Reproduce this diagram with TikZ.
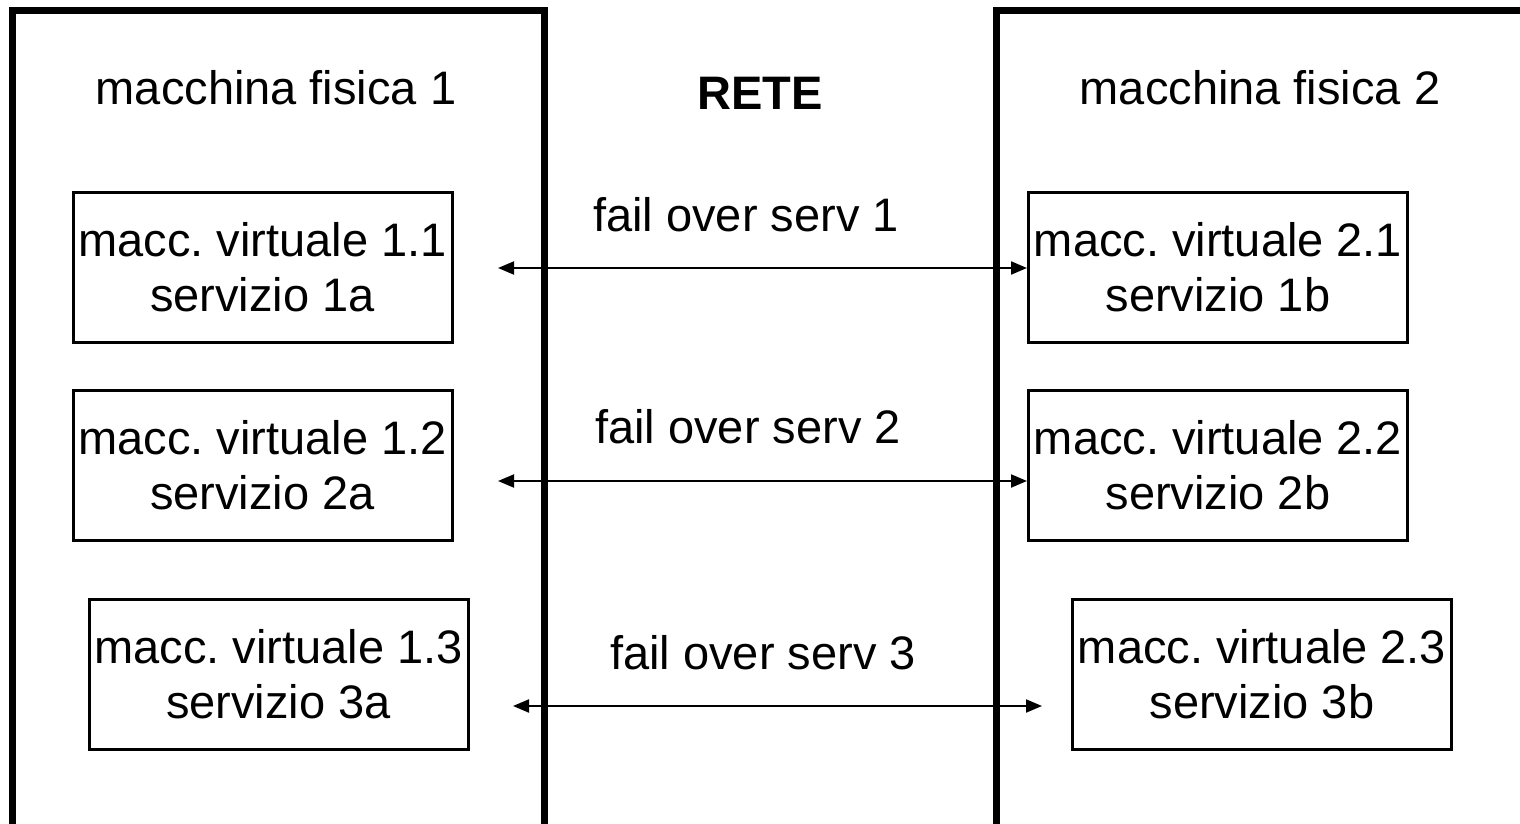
\documentclass[tikz,border=0pt]{standalone}
\usepackage{fontspec}
\setmainfont{Liberation Sans}
\usetikzlibrary{arrows.meta}
\frenchspacing
\begin{document}
\begin{tikzpicture}[x=1pt,y=-1pt,
  txt/.style={font=\fontsize{47}{55}\selectfont, inner sep=0pt},
  bigbox/.style={draw, line width=7pt, minimum width=#1, minimum height=830pt, inner sep=0pt},
  vbox/.style={draw, line width=3pt, minimum width=379pt, minimum height=150pt, inner sep=0pt, align=center, font=\fontsize{47}{55}\selectfont},
  link/.style={line width=2pt, {Triangle[length=16pt,width=13pt]}-{Triangle[length=16pt,width=13pt]}}]
\useasboundingbox (0,0) rectangle (1520,824);
\node[bigbox=532pt] (m1) at (278,426) {};
\node[bigbox=540pt] (m2) at (1266,426) {};
\node[txt] (m1t) at (276,88) {macchina fisica 1};
\node[txt] (m2t) at (1260,88) {macchina fisica 2};
\node[txt, font=\fontsize{47}{55}\selectfont\bfseries] (rete) at (760,93) {RETE};
\node[vbox] (v11) at (262.5,267) {macc. virtuale 1.1\\servizio 1a};
\node[vbox] (v12) at (262.5,465) {macc. virtuale 1.2\\servizio 2a};
\node[vbox] (v13) at (278.5,674) {macc. virtuale 1.3\\servizio 3a};
\node[vbox] (v21) at (1218,267) {macc. virtuale 2.1\\servizio 1b};
\node[vbox] (v22) at (1218,465) {macc. virtuale 2.2\\servizio 2b};
\node[vbox] (v23) at (1262,674) {macc. virtuale 2.3\\servizio 3b};
\node[txt] (f1) at (746,215) {fail over serv 1};
\node[txt] (f2) at (748,427) {fail over serv 2};
\node[txt] (f3) at (763,653) {fail over serv 3};
\coordinate (a1l) at (498,268);
\coordinate (a1r) at (1027,268);
\coordinate (a2l) at (498,481);
\coordinate (a2r) at (1027,481);
\coordinate (a3l) at (513,706);
\coordinate (a3r) at (1042,706);
\draw[link] (a1l) -- (a1r);
\draw[link] (a2l) -- (a2r);
\draw[link] (a3l) -- (a3r);
\end{tikzpicture}
\end{document}
